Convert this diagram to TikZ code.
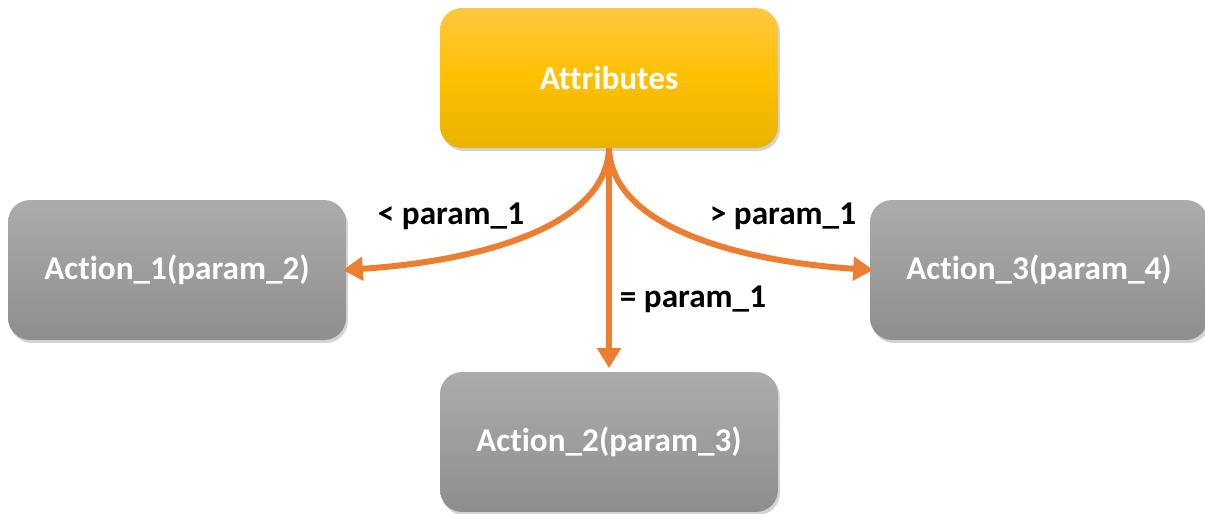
\documentclass[tikz,border=0pt]{standalone}
\usepackage{fontspec}
\setmainfont{Carlito}[Ligatures={NoCommon,NoContextual}, RawFeature={-clig}]
\usepackage{tikz}
\usetikzlibrary{arrows.meta, positioning, shadows}
\definecolor{flowor}{HTML}{ED7D31}
\definecolor{attrtop}{RGB}{255,200,64}
\definecolor{attrmid}{RGB}{255,192,0}
\definecolor{attrbot}{RGB}{230,180,0}
\definecolor{acttop}{RGB}{172,172,172}
\definecolor{actbot}{RGB}{142,142,142}

\begin{document}
\begin{tikzpicture}[x=0.02cm, y=-0.02cm,
    box/.style={rounded corners=0.44cm, minimum width=6.76cm, minimum height=2.8cm,
        text=white, font=\fontsize{18.9}{22}\selectfont\bfseries,
        drop shadow={opacity=0.35, shadow xshift=0.04cm, shadow yshift=-0.06cm}},
    attrbox/.style={box, top color=attrtop, bottom color=attrbot, middle color=attrmid},
    actbox/.style={box, top color=acttop, bottom color=actbot},
    flow/.style={flowor, line width=0.12cm, -{Triangle[length=0.4cm, width=0.46cm]}},
    lbl/.style={font=\fontsize{18.9}{22}\selectfont\bfseries}]
    \useasboundingbox (0,0) rectangle (1205,514);
    \node[attrbox] (attr) at (609,78) {Attributes};
    \node[actbox] (act1) at (177,270) {Action\_1(param\_2)};
    \node[actbox] (act2) at (609,442) {Action\_2(param\_3)};
    \node[actbox] (act3) at (1039,270) {Action\_3(param\_4)};
    % connectors
    \draw[flow] (attr.south) .. controls (606,230) and (470,262) .. ([xshift=-2pt]act1.east);
    \draw[flow] (attr.south) .. controls (612,230) and (748,262) .. ([xshift=2pt]act3.west);
    \draw[flow] (attr.south) -- ([yshift=2pt]act2.north);
    \node[lbl] (lt) at (451,216) {< param\_1};
    \node[lbl] (gt) at (783,216) {> param\_1};
    \node[lbl] (eq) at (693,299) {= param\_1};
\end{tikzpicture}
\end{document}
